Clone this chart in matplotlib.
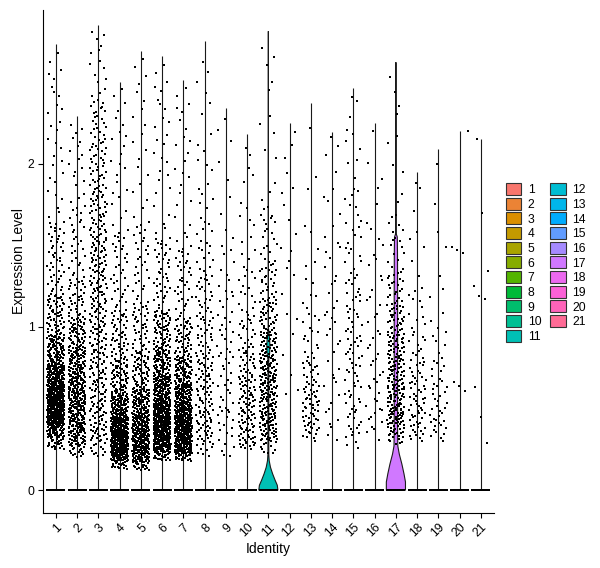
import numpy as np
import matplotlib
matplotlib.use("Agg")
import matplotlib.pyplot as plt
from matplotlib.patches import Patch

plt.rcParams['font.family'] = ['Liberation Sans', 'DejaVu Sans']

# ---------------- data ----------------
identities = [str(i) for i in range(1, 22)]

# top of each violin (maximum expression) per identity
max_expr = [2.73, 2.29, 2.85, 2.50, 2.69, 2.66, 2.51, 2.75, 2.34, 2.18, 2.81,
            2.25, 2.37, 2.19, 2.46, 2.25, 2.62, 1.95, 2.09, 2.20, 2.15]

# number of cells with non-zero expression (points above 0), identities 1..19
n_expr = [760, 480, 380, 600, 500, 700, 620, 190, 75, 170, 330,
          22, 100, 45, 110, 50, 270, 90, 55]

# number of cells at zero (the dense bar at 0)
n_zero = [260] * 21

# quantiles of non-zero expression per identity (1..19)
quantile_probs = [0.0, 0.03, 0.10, 0.25, 0.40, 0.55, 0.70, 0.82, 0.90, 0.96, 1.0]
expr_quantiles = [
    [0.25, 0.32, 0.40, 0.48, 0.56, 0.65, 0.77, 0.95, 1.20, 1.65, 2.73],   # 1
    [0.20, 0.27, 0.35, 0.48, 0.60, 0.72, 0.88, 1.05, 1.30, 1.75, 2.29],   # 2
    [0.20, 0.30, 0.42, 0.70, 1.00, 1.30, 1.60, 1.90, 2.15, 2.40, 2.85],   # 3
    [0.13, 0.18, 0.22, 0.29, 0.36, 0.45, 0.58, 0.80, 1.10, 1.60, 2.50],   # 4
    [0.12, 0.17, 0.22, 0.30, 0.38, 0.48, 0.62, 0.85, 1.15, 1.65, 2.69],   # 5
    [0.18, 0.23, 0.28, 0.37, 0.46, 0.56, 0.70, 0.88, 1.10, 1.55, 2.66],   # 6
    [0.18, 0.22, 0.27, 0.35, 0.43, 0.52, 0.65, 0.82, 1.05, 1.50, 2.51],   # 7
    [0.20, 0.27, 0.35, 0.50, 0.68, 0.85, 1.10, 1.35, 1.65, 2.10, 2.75],   # 8
    [0.20, 0.25, 0.35, 0.50, 0.70, 0.90, 1.10, 1.35, 1.60, 2.00, 2.34],   # 9
    [0.25, 0.28, 0.33, 0.45, 0.57, 0.70, 0.88, 1.10, 1.35, 1.75, 2.18],   # 10
    [0.22, 0.30, 0.38, 0.52, 0.66, 0.80, 0.97, 1.17, 1.40, 1.75, 2.81],   # 11
    [0.55, 0.60, 0.70, 1.00, 1.30, 1.50, 1.70, 1.90, 2.00, 2.15, 2.25],   # 12
    [0.30, 0.33, 0.38, 0.47, 0.56, 0.66, 0.80, 1.00, 1.20, 1.60, 2.37],   # 13
    [0.30, 0.35, 0.45, 0.70, 0.95, 1.15, 1.40, 1.65, 1.85, 2.05, 2.19],   # 14
    [0.25, 0.32, 0.42, 0.65, 0.85, 1.05, 1.30, 1.60, 1.85, 2.20, 2.46],   # 15
    [0.30, 0.35, 0.42, 0.55, 0.75, 0.95, 1.20, 1.45, 1.70, 2.00, 2.25],   # 16
    [0.28, 0.33, 0.40, 0.52, 0.65, 0.80, 0.97, 1.15, 1.35, 1.70, 2.62],   # 17
    [0.30, 0.33, 0.38, 0.48, 0.58, 0.70, 0.85, 1.05, 1.25, 1.60, 1.95],   # 18
    [0.30, 0.33, 0.38, 0.45, 0.55, 0.65, 0.80, 1.00, 1.25, 1.60, 2.09],   # 19
]
# individually readable points for the sparse identities 20 and 21
expr_20 = [2.20, 1.49, 1.47, 1.45, 0.66, 0.64, 0.61]
expr_21 = [2.15, 1.70, 1.34, 1.25, 1.19, 1.17, 0.63, 0.45, 0.29]

# violin outlines (expression, half-width) for identities with a visible body
violin_11_y = [0.0, 0.03, 0.06, 0.10, 0.14, 0.18, 0.22, 0.80, 0.84, 0.88, 0.92, 0.96, 1.00, 2.81]
violin_11_w = [0.45, 0.42, 0.32, 0.20, 0.10, 0.04, 0.02, 0.02, 0.06, 0.075, 0.06, 0.03, 0.0, 0.0]
violin_17_y = [0.0, 0.05, 0.10, 0.16, 0.22, 0.27, 0.35, 0.80, 1.20, 1.45, 1.55, 1.57, 1.84, 1.86, 2.62]
violin_17_w = [0.45, 0.45, 0.38, 0.28, 0.16, 0.09, 0.08, 0.08, 0.08, 0.075, 0.065, 0.012, 0.008, 0.0, 0.0]


# ---------------- helpers ----------------
def hcl_hex(h, c, l):
    hr = np.deg2rad(h)
    U, V = c * np.cos(hr), c * np.sin(hr)
    Xn, Yn, Zn = 95.047, 100.0, 108.883
    Y = Yn * ((l + 16) / 116) ** 3 if l > 8 else Yn * l / 903.3
    den = Xn + 15 * Yn + 3 * Zn
    un, vn = 4 * Xn / den, 9 * Yn / den
    u = U / (13 * l) + un
    v = V / (13 * l) + vn
    X = 9.0 * Y * u / (4 * v)
    Z = -X / 3 - 5 * Y + 3 * Y / v
    X, Y, Z = X / 100, Y / 100, Z / 100
    r = 3.240479 * X - 1.537150 * Y - 0.498535 * Z
    g = -0.969256 * X + 1.875992 * Y + 0.041556 * Z
    b = 0.055648 * X - 0.204043 * Y + 1.057311 * Z

    def gam(t):
        t = 12.92 * t if t <= 0.0031308 else 1.055 * t ** (1 / 2.4) - 0.055
        return min(max(t, 0), 1)
    return (gam(r), gam(g), gam(b))


def halton(i, b):
    f, r = 1.0, 0.0
    while i > 0:
        f /= b
        r += f * (i % b)
        i //= b
    return r


n = len(identities)
hues = np.linspace(15, 375, n + 1)[:n]
colors = [hcl_hex(h, 100, 65) for h in hues]

fig = plt.figure(figsize=(6.0, 5.68), dpi=100)
ax = fig.add_axes([43 / 600, 1 - 513 / 568, (493.7 - 43) / 600, (513 - 10) / 568])

violins = {11: (violin_11_y, violin_11_w), 17: (violin_17_y, violin_17_w)}

for k in range(n):
    cx = k + 1
    if cx in violins:
        vy, vw = violins[cx]
    else:
        vy, vw = [0.0, max_expr[k]], [0.0, 0.0]
    vy = np.array(vy)
    vw = np.array(vw)
    xs = np.concatenate([cx - vw, (cx + vw)[::-1]])
    ys = np.concatenate([vy, vy[::-1]])
    ax.fill(xs, ys, facecolor=colors[k], edgecolor='#1a1a1a', linewidth=0.8, zorder=2)

# jittered points
PT = 2.3
for k in range(n):
    cx = k + 1
    if k < len(expr_quantiles):
        cnt = n_expr[k]
        idx = np.arange(1, cnt + 1) + 7 * k
        p = np.array([halton(i, 2) for i in idx])
        yv = np.interp(p, quantile_probs, expr_quantiles[k])
    else:
        yv = np.array(expr_20 if cx == 20 else expr_21)
        idx = np.arange(1, len(yv) + 1) + 7 * k
    jx = np.array([halton(i, 3) for i in idx])
    xv = cx + (jx - 0.5) * 0.8
    ax.scatter(xv, yv, s=PT, marker='s', c='black', linewidths=0, zorder=3)
    # zero cells
    xz = cx + np.linspace(-0.4, 0.4, n_zero[k])
    ax.scatter(xz, np.zeros_like(xz), s=PT, marker='s', c='black', linewidths=0, zorder=3)

ax.set_xlim(0.4, n + 0.6)
ax.set_ylim(-0.14, 2.94)
ax.set_xticks(range(1, n + 1))
ax.set_xticklabels(identities, rotation=45, ha='right', va='top', rotation_mode='anchor')
ax.set_yticks([0, 1, 2])
ax.set_yticklabels(['0', '1', '2'])
for s in ['top', 'right']:
    ax.spines[s].set_visible(False)
for s in ['left', 'bottom']:
    ax.spines[s].set_linewidth(0.8)
    ax.spines[s].set_color('black')
ax.tick_params(axis='both', length=3.6, width=0.8, color='black', labelsize=8.7,
               labelcolor='black', pad=2.5)
ax.set_xlabel('Identity', fontsize=10, labelpad=2)
ax.set_ylabel('Expression Level', fontsize=10, labelpad=1)

handles = [Patch(facecolor=colors[k], edgecolor='#333333', linewidth=0.8, label=identities[k])
           for k in range(n)]
fig.legend(handles=handles, loc='center left', bbox_to_anchor=(506 / 600, 1 - 263 / 568),
           ncol=2, frameon=False, fontsize=8.7, handlelength=1.25, handleheight=1.15,
           handletextpad=0.55, columnspacing=0.75, labelspacing=0.13, borderpad=0,
           borderaxespad=0)

fig.savefig('out.png', dpi=100, facecolor='white')
